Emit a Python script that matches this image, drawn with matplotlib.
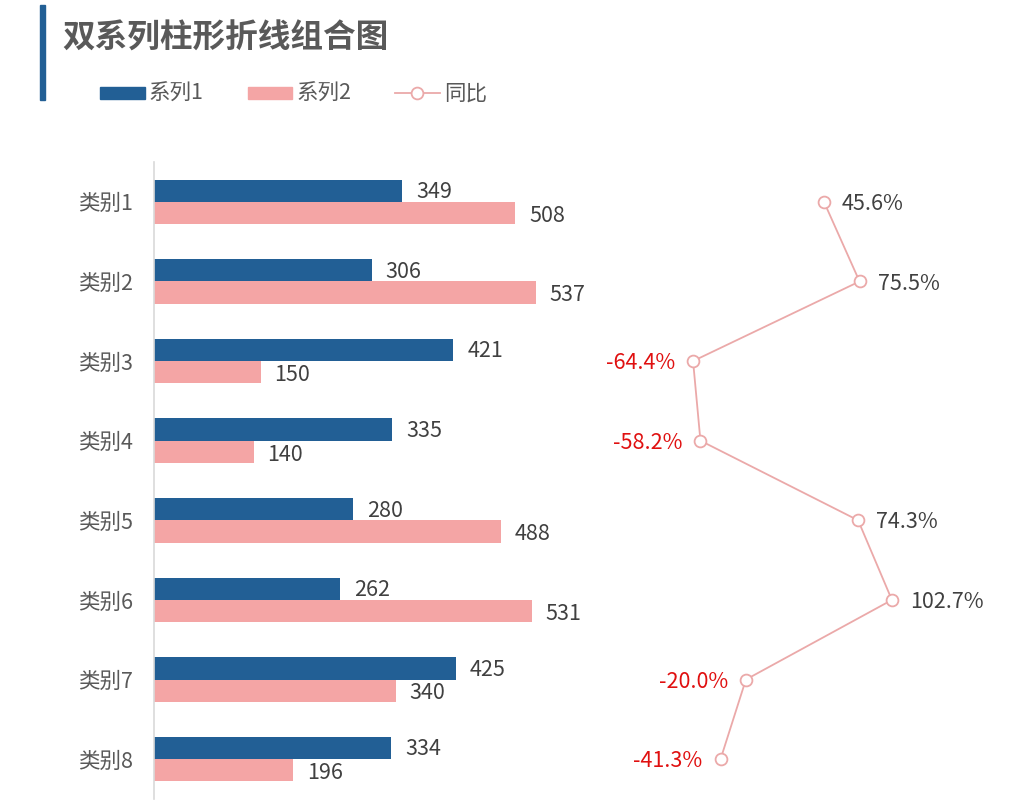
import matplotlib.pyplot as plt
import numpy as np
from matplotlib.patches import Rectangle
from matplotlib.lines import Line2D

plt.rcParams['font.family'] = ['Noto Sans CJK SC', 'DejaVu Sans']

categories = ["类别1", "类别2", "类别3", "类别4", "类别5", "类别6", "类别7", "类别8"]
series1 = [349, 306, 421, 335, 280, 262, 425, 334]
series2 = [508, 537, 150, 140, 488, 531, 340, 196]
yoy = [45.6, 75.5, -64.4, -58.2, 74.3, 102.7, -20.0, -41.3]

blue = "#225F95"
pink = "#F4A5A5"
line_c = "#EBA9A9"
red = "#E01010"
txt = "#404040"

W, H = 1028, 808
fig = plt.figure(figsize=(W / 100, H / 100), dpi=100)

# axes box in pixels: left 154, right 1000, top 162, bottom 799
L, R, T, B = 154, 1000, 162, 799
ax = fig.add_axes([L / W, 1 - B / H, (R - L) / W, (B - T) / H])
px_per_unit = 0.711
ax.set_xlim(0, (R - L) / px_per_unit)
ax.set_ylim(len(categories) - 0.5, -0.5)

y = np.arange(len(categories))
bh = 0.28
ax.barh(y - bh / 2, series1, height=bh, color=blue)
ax.barh(y + bh / 2, series2, height=bh, color=pink)

for i in range(len(categories)):
    ax.annotate(str(series1[i]), (series1[i], y[i] - bh / 2), xytext=(10, -1),
                textcoords="offset points", va="center", ha="left", fontsize=15.5, color=txt)
    ax.annotate(str(series2[i]), (series2[i], y[i] + bh / 2), xytext=(10, -2),
                textcoords="offset points", va="center", ha="left", fontsize=15.5, color=txt)

ax.set_yticks(y)
ax.set_yticklabels(categories, fontsize=15.5, color="#595959")
ax.tick_params(axis="y", length=0, pad=15)
ax.set_xticks([])
for s in ["top", "right", "bottom"]:
    ax.spines[s].set_visible(False)
ax.spines["left"].set_color("#D9D9D9")
ax.spines["left"].set_linewidth(1.2)

# line on twin x axis
ax2 = ax.twiny()
pct_px = 1.19
zero_px = 769.7
ax2.set_xlim((L - zero_px) / pct_px, (R - zero_px) / pct_px)
ax2.plot(yoy, y, color=line_c, lw=1.3, marker="o", ms=8.5,
         mfc="white", mec=line_c, mew=1.3, zorder=3)
for i, v in enumerate(yoy):
    if v >= 0:
        ax2.annotate(f"{v:.1f}%", (v, y[i]), xytext=(13, -1.5), textcoords="offset points",
                     va="center", ha="left", fontsize=15.5, color=txt)
    else:
        ax2.annotate(f"{v:.1f}%", (v, y[i]), xytext=(-13, -1.5), textcoords="offset points",
                     va="center", ha="right", fontsize=15.5, color=red)
ax2.set_xticks([])
for s in ax2.spines.values():
    s.set_visible(False)

# title with vertical accent bar
fig.patches.append(Rectangle((40 / W, 1 - 100 / H), 5 / W, 95 / H,
                             transform=fig.transFigure, color=blue))
fig.text(62 / W, 1 - 38 / H, "双系列柱形折线组合图", fontsize=23.5, fontweight="bold",
         color="#595959", va="center", ha="left")

# legend
ly = 1 - 94 / H
fig.patches.append(Rectangle((100 / W, 1 - 99 / H), 45 / W, 12 / H,
                             transform=fig.transFigure, color=blue))
fig.text(149 / W, ly, "系列1", fontsize=15.5, color="#595959", va="center", ha="left")
fig.patches.append(Rectangle((248 / W, 1 - 99 / H), 44 / W, 12 / H,
                             transform=fig.transFigure, color=pink))
fig.text(296 / W, ly, "系列2", fontsize=15.5, color="#595959", va="center", ha="left")
fig.lines.append(Line2D([395 / W, 440 / W], [1 - 93 / H, 1 - 93 / H], transform=fig.transFigure,
                        color=line_c, lw=1.3))
fig.lines.append(Line2D([417 / W], [1 - 93 / H], transform=fig.transFigure, marker="o", ms=8.5,
                        mfc="white", mec=line_c, mew=1.3, color=line_c))
fig.text(444 / W, ly, "同比", fontsize=15.5, color="#595959", va="center", ha="left")

fig.savefig("out.png", dpi=100)
